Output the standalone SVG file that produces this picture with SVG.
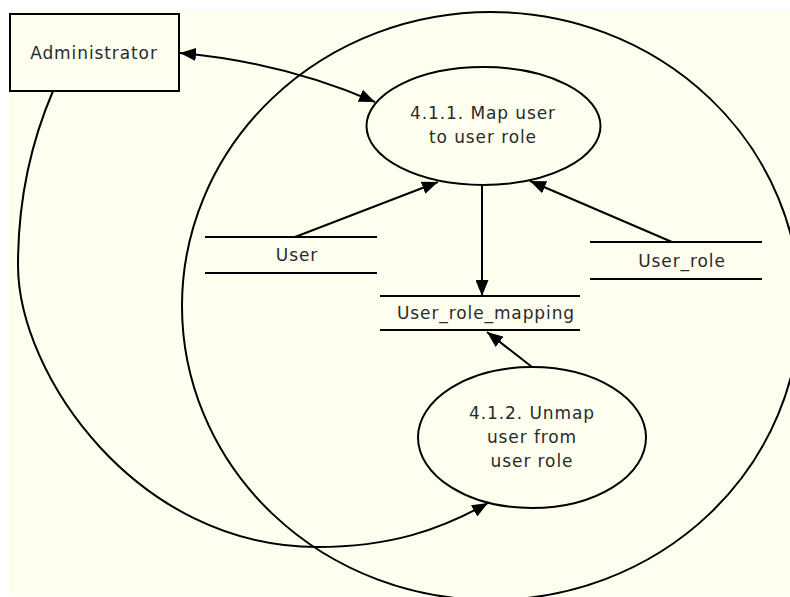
<svg xmlns="http://www.w3.org/2000/svg" width="790" height="597" viewBox="0 0 790 597">
<style>
.shape{fill:#fffff0;stroke:#000;stroke-width:2}
.boundary{fill:none;stroke:#000;stroke-width:2}
.store{stroke:#000;stroke-width:2}
.flow{fill:none;stroke:#000;stroke-width:2}
.lbl{font-family:"DejaVu Sans","Liberation Sans",sans-serif;font-size:17px;letter-spacing:0.9px;fill:#2a2a2a;text-anchor:middle}
</style>
<defs>
<marker id="arr" markerUnits="userSpaceOnUse" markerWidth="16" markerHeight="13" viewBox="0 0 16 13" refX="16" refY="6.5" orient="auto-start-reverse">
<path d="M0,0 L16,6.5 L0,13 z" fill="#000"/>
</marker>
</defs>
<rect x="9" y="10" width="781" height="586" fill="#fffff0"/>
<g id="boundary">
<ellipse class="boundary" cx="491" cy="306" rx="309" ry="294"/>
</g>
<g id="administrator">
<rect class="shape" x="10" y="14" width="169" height="77"/>
<text class="lbl" x="94" y="59">Administrator</text>
</g>
<g id="p411">
<ellipse class="shape" cx="483.5" cy="126" rx="117" ry="59"/>
<text class="lbl" x="483" y="119">4.1.1. Map user</text>
<text class="lbl" x="483" y="143">to user role</text>
</g>
<g id="p412">
<ellipse class="shape" cx="532" cy="437.5" rx="114" ry="70.5"/>
<text class="lbl" x="532" y="419">4.1.2. Unmap</text>
<text class="lbl" x="532" y="443">user from</text>
<text class="lbl" x="532" y="467">user role</text>
</g>
<g id="store-user">
<line class="store" x1="205" y1="237" x2="377" y2="237"/>
<line class="store" x1="205" y1="273" x2="377" y2="273"/>
<text class="lbl" x="297" y="261">User</text>
</g>
<g id="store-user-role">
<line class="store" x1="590" y1="242" x2="762" y2="242"/>
<line class="store" x1="590" y1="279" x2="762" y2="279"/>
<text class="lbl" x="682" y="267">User_role</text>
</g>
<g id="store-user-role-mapping">
<line class="store" x1="380" y1="296" x2="580" y2="296"/>
<line class="store" x1="380" y1="330" x2="580" y2="330"/>
<text class="lbl" x="486" y="319">User_role_mapping</text>
</g>
<g id="connectors">
<path class="flow" d="M180,53 Q282,62 375,102" marker-start="url(#arr)" marker-end="url(#arr)"/>
<path class="flow" d="M295,237 L438,182" marker-end="url(#arr)"/>
<path class="flow" d="M672,242 L530,181" marker-end="url(#arr)"/>
<path class="flow" d="M482,185 L482,296" marker-end="url(#arr)"/>
<path class="flow" d="M532,367 L487,332" marker-end="url(#arr)"/>
<path class="flow" d="M53,91 C32,140 18,200 18,265 C18,375 137,547 317,547 C390,547 440,530 488,503" marker-end="url(#arr)"/>
</g>
</svg>
